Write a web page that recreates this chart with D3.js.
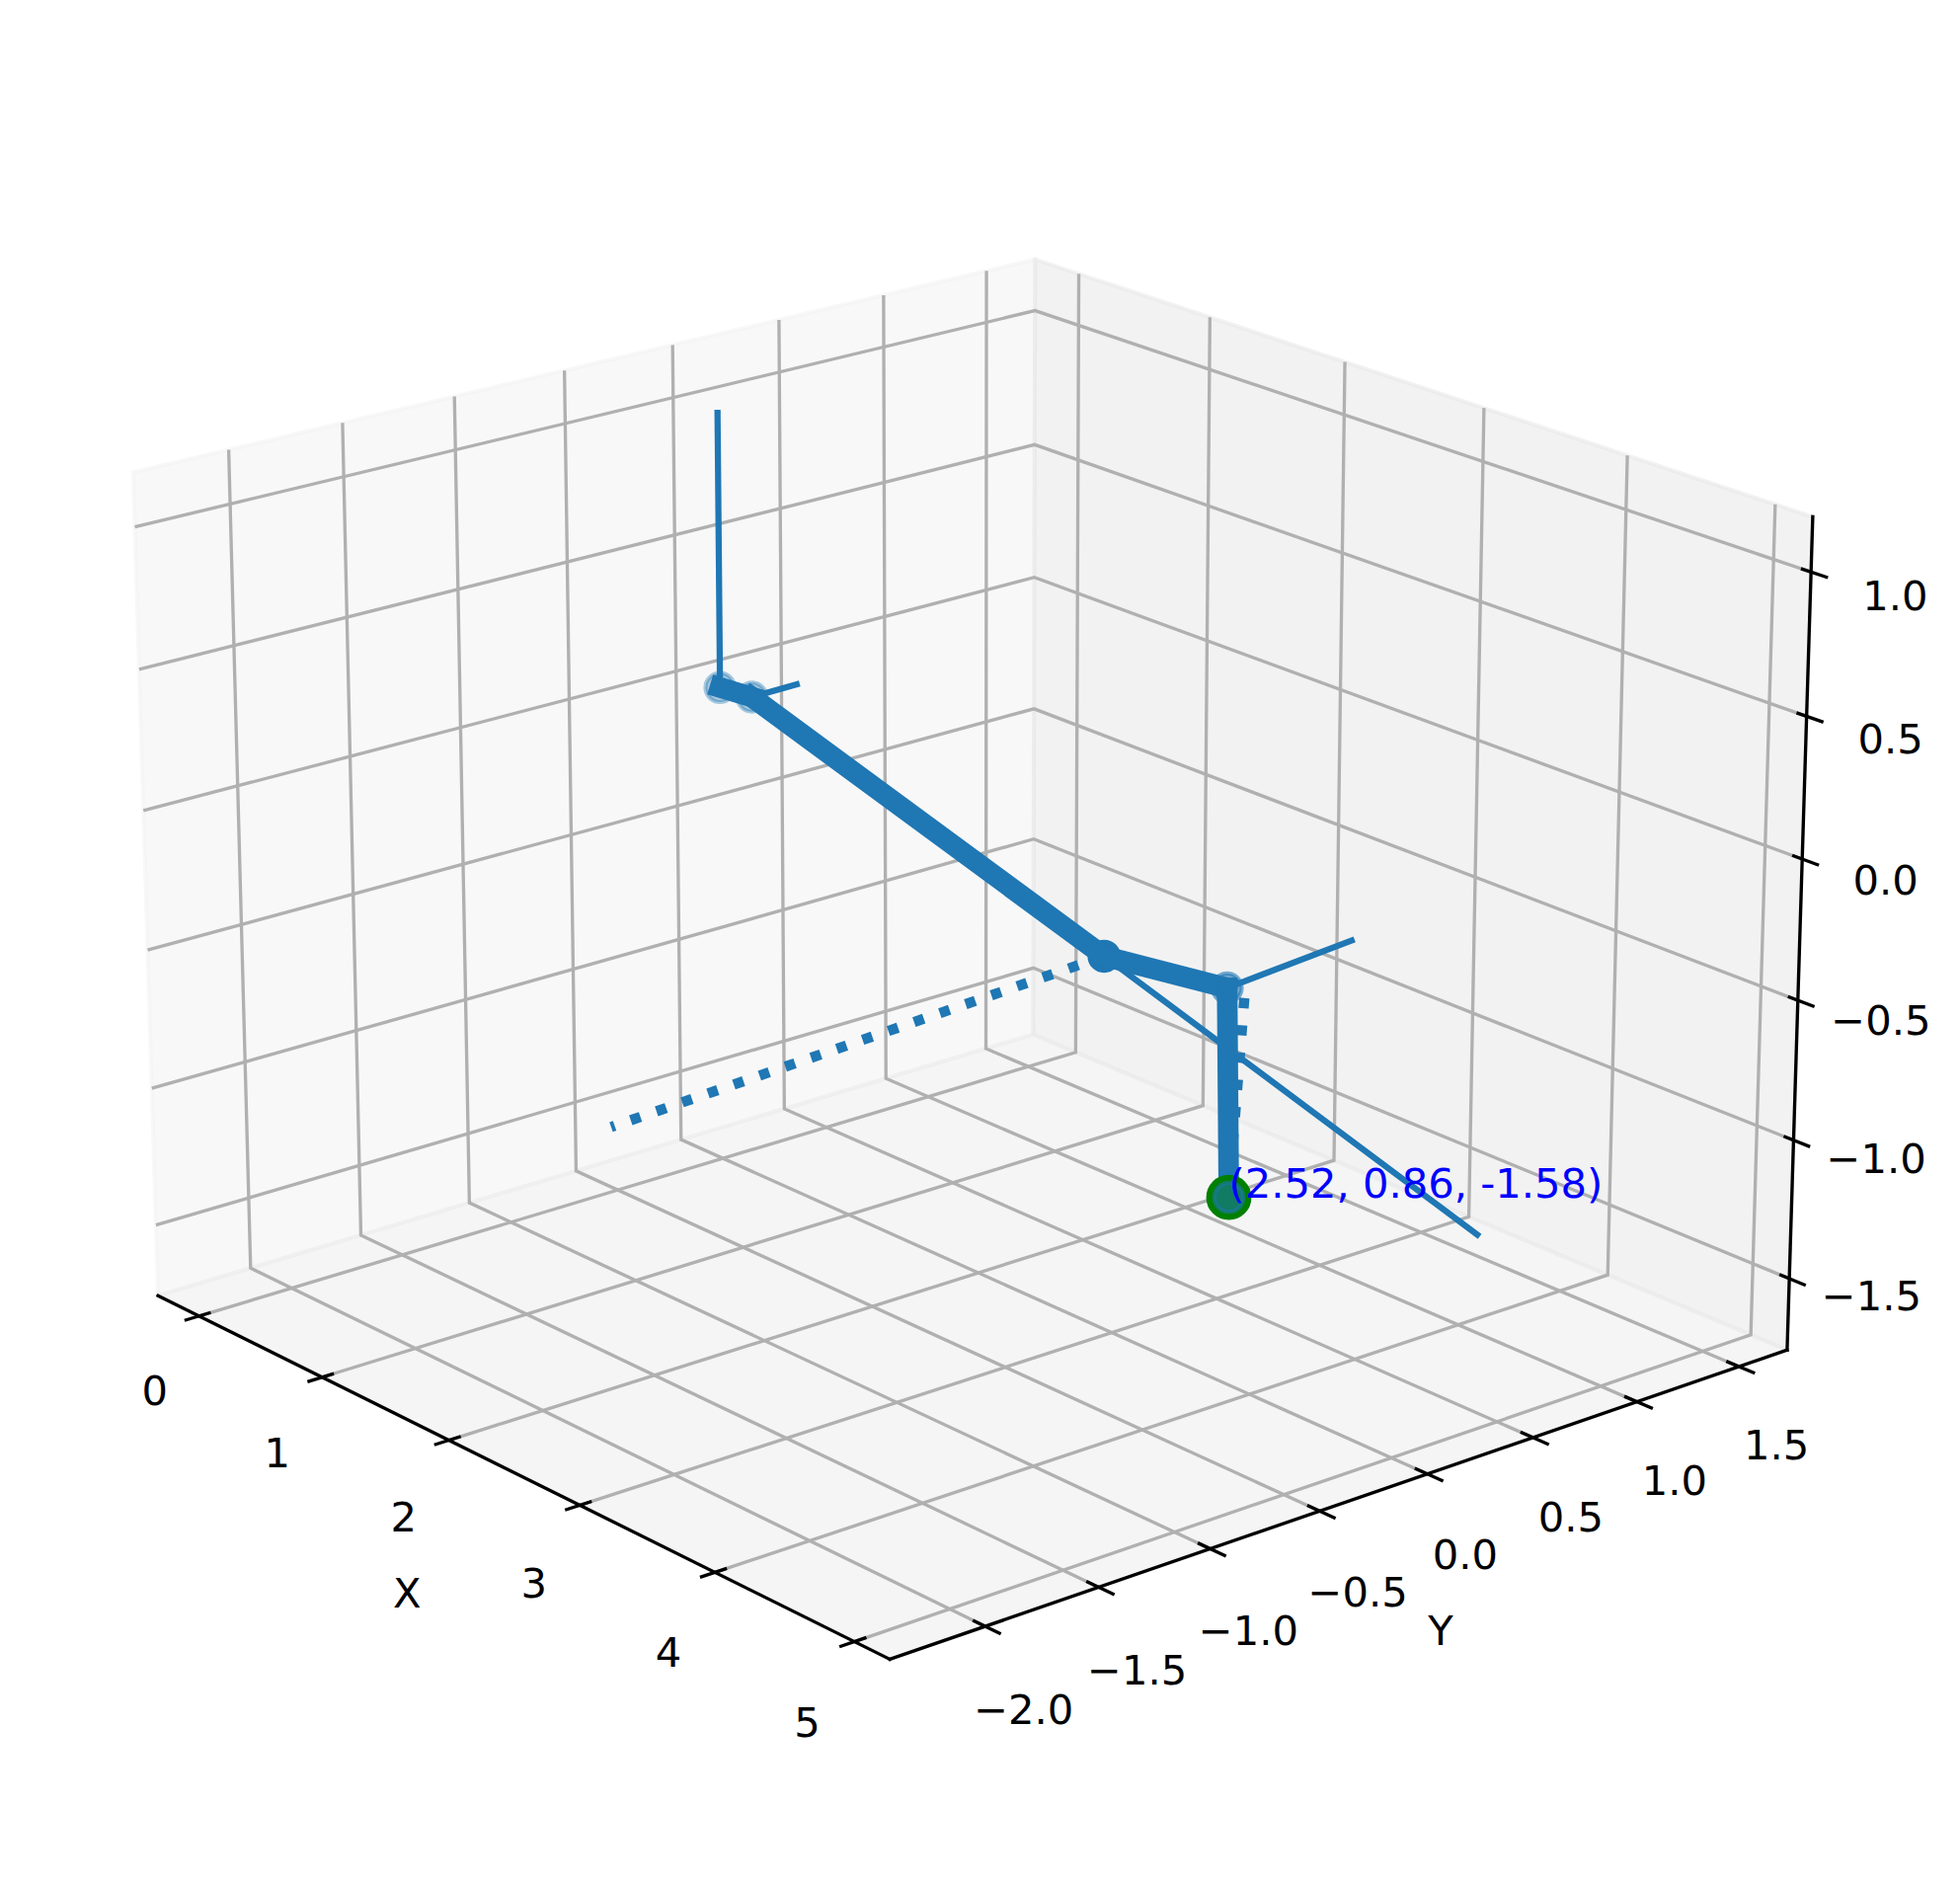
<!DOCTYPE html>
<html>
<head>
<meta charset="utf-8">
<style>
body { margin: 0; background: #fff; }
text { font-family: "DejaVu Sans", sans-serif; font-size: 41.67px; }
</style>
<script src="https://cdnjs.cloudflare.com/ajax/libs/d3/7.8.5/d3.min.js"></script>
</head>
<body>
<div id="chart"></div>
<script>
// tick values and labels
const xTicks = [0, 1, 2, 3, 4, 5];
const yTicks = [-2, -1.5, -1, -0.5, 0, 0.5, 1, 1.5];
const zTicks = [-1.5, -1, -0.5, 0, 0.5, 1];
const xTickLabels = ['0', '1', '2', '3', '4', '5'];
const yTickLabels = ['\u22122.0', '\u22121.5', '\u22121.0', '\u22120.5', '0.0', '0.5', '1.0', '1.5'];
const zTickLabels = ['\u22121.5', '\u22121.0', '\u22120.5', '0.0', '0.5', '1.0'];

// axis limits
const xLim = [-0.34, 5.249];
const yLim = [-2.413, 1.739];
const zLim = [-1.76, 1.19];

// joints of the arm
const jointNames = ['base', 'shoulder', 'elbow', 'wrist', 'tip'];
const jointX = [0, 0.262, 2.929, 2.52, 2.52];
const jointY = [0.006, 0, 0, 0.853, 0.871];
const jointZ = [0, 0.014, -0.414, -0.803, -1.58];

// thin segments: [from, to], as [x, y, z]
const thinSegments = [
  [[0, 0.006, 0], [0, 0.006, 1]],
  [[0.262, 0, 0.014], [0.614, 0, 0.125]],
  [[2.929, 0, -0.414], [5.557, 0, -0.849]],
  [[2.52, 0.853, -0.803], [2.52, 1.46, -0.765]]
];

// dotted segments start at the end the dash pattern starts from
const dottedSegments = [
  [[2.929, 0, -0.414], [2.93, -2.215, -0.503]],
  [[2.52, 0.937, -0.859], [2.52, 0.87, -1.578]]
];

const annotation = '(2.52, 0.86, -1.58)';

const width = 1985, height = 1907;
const blue = '#1f77b4';
const jointAlpha = [0.38, 0.38, 1, 0.6, 0.55];

// same camera as matplotlib at elev=20, azim=-40, dist=10
const elev = 20 * Math.PI / 180, azim = -40 * Math.PI / 180, dist = 10;
const boxK = 1.8294640721620434 * 25 / 24 / Math.sqrt(41);
const box = [4 * boxK, 4 * boxK, 3 * boxK];
const sx = 9986.7, ox = 979.4, sy = -9995.3, oy = 926.5;

const w = [Math.cos(elev) * Math.cos(azim), Math.cos(elev) * Math.sin(azim), Math.sin(elev)];
const u = [-Math.sin(azim), Math.cos(azim), 0];
const v = [w[1] * u[2] - w[2] * u[1], w[2] * u[0] - w[0] * u[2], w[0] * u[1] - w[1] * u[0]];

const xScale = d3.scaleLinear().domain(xLim).range([-box[0] / 2, box[0] / 2]);
const yScale = d3.scaleLinear().domain(yLim).range([-box[1] / 2, box[1] / 2]);
const zScale = d3.scaleLinear().domain(zLim).range([-box[2] / 2, box[2] / 2]);

const dot = (a, b) => a[0] * b[0] + a[1] * b[1] + a[2] * b[2];

function project(d) {
  const p = [xScale(d[0]), yScale(d[1]), zScale(d[2])];
  const depth = dist - dot(w, p);
  return [ox + sx * dot(u, p) / depth, oy + sy * dot(v, p) / depth];
}

// moves along an axis by a share of its span
const xStep = f => f * (xLim[1] - xLim[0]);
const yStep = f => f * (yLim[1] - yLim[0]);
const zStep = f => f * (zLim[1] - zLim[0]);

const line3 = d3.line().x(d => project(d)[0]).y(d => project(d)[1]);

const svg = d3.select('#chart').append('svg')
  .attr('width', width)
  .attr('height', height)
  .style('display', 'block');

// panes
const panes = [
  { fill: 'rgb(242,242,242)', pts: [[xLim[0], yLim[0], zLim[0]], [xLim[0], yLim[1], zLim[0]], [xLim[0], yLim[1], zLim[1]], [xLim[0], yLim[0], zLim[1]]] },
  { fill: 'rgb(230,230,230)', pts: [[xLim[0], yLim[1], zLim[0]], [xLim[1], yLim[1], zLim[0]], [xLim[1], yLim[1], zLim[1]], [xLim[0], yLim[1], zLim[1]]] },
  { fill: 'rgb(236,236,236)', pts: [[xLim[0], yLim[0], zLim[0]], [xLim[1], yLim[0], zLim[0]], [xLim[1], yLim[1], zLim[0]], [xLim[0], yLim[1], zLim[0]]] }
];

svg.selectAll('.pane').data(panes).enter().append('path')
  .attr('class', 'pane')
  .attr('d', d => line3(d.pts) + 'Z')
  .attr('fill', d => d.fill)
  .attr('fill-opacity', 0.5)
  .attr('stroke', d => d.fill)
  .attr('stroke-opacity', 0.5)
  .attr('stroke-width', 4);

// grid
const grid = [];
xTicks.forEach(t => grid.push([[t, yLim[0], zLim[0]], [t, yLim[1], zLim[0]], [t, yLim[1], zLim[1]]]));
yTicks.forEach(t => grid.push([[xLim[1], t, zLim[0]], [xLim[0], t, zLim[0]], [xLim[0], t, zLim[1]]]));
zTicks.forEach(t => grid.push([[xLim[0], yLim[0], t], [xLim[0], yLim[1], t], [xLim[1], yLim[1], t]]));

svg.selectAll('.grid').data(grid).enter().append('path')
  .attr('class', 'grid')
  .attr('d', line3)
  .attr('fill', 'none')
  .attr('stroke', '#b0b0b0')
  .attr('stroke-width', 3.33);

// axis lines
const axes = [
  [[xLim[0], yLim[0], zLim[0]], [xLim[1], yLim[0], zLim[0]]],
  [[xLim[1], yLim[0], zLim[0]], [xLim[1], yLim[1], zLim[0]]],
  [[xLim[1], yLim[1], zLim[0]], [xLim[1], yLim[1], zLim[1]]]
];
svg.selectAll('.axis').data(axes).enter().append('path')
  .attr('class', 'axis')
  .attr('d', line3)
  .attr('fill', 'none')
  .attr('stroke', '#000')
  .attr('stroke-width', 3.33)
  .attr('stroke-linecap', 'square');

// tick marks
const tickMarks = [];
xTicks.forEach(t => tickMarks.push([[t, yLim[0] + yStep(0.0125), zLim[0]], [t, yLim[0] - yStep(0.0155), zLim[0]]]));
yTicks.forEach(t => tickMarks.push([[xLim[1] - xStep(0.0155), t, zLim[0]], [xLim[1] + xStep(0.0195), t, zLim[0]]]));
zTicks.forEach(t => tickMarks.push([[xLim[1] - xStep(0.012), yLim[1], t], [xLim[1] + xStep(0.02), yLim[1], t]]));
svg.selectAll('.tick').data(tickMarks).enter().append('path')
  .attr('class', 'tick')
  .attr('d', line3)
  .attr('stroke', '#000')
  .attr('stroke-width', 3.33);

// labels, positioned by their centre
const labels = [];
xTicks.forEach((t, i) => labels.push({ text: xTickLabels[i], at: [t, yLim[0] - yStep(0.049), zLim[0] - zStep(0.075)] }));
yTicks.forEach((t, i) => labels.push({ text: yTickLabels[i], at: [xLim[1] + xStep(0.048), t, zLim[0] - zStep(0.075)] }));
zTicks.forEach((t, i) => labels.push({ text: zTickLabels[i], at: [xLim[1], yLim[1] + yStep(0.101), t - zStep(0.056)] }));
labels.push({ text: 'X', at: [d3.mean(xLim), yLim[0] - yStep(0.107), zLim[0] - zStep(0.108)] });
labels.push({ text: 'Y', at: [xLim[1] + xStep(0.1065), d3.mean(yLim), zLim[0] - zStep(0.109)] });

svg.selectAll('.label').data(labels).enter().append('text')
  .attr('class', 'label')
  .attr('x', d => project(d.at)[0])
  .attr('y', d => project(d.at)[1])
  .attr('dy', '0.3645em')
  .attr('text-anchor', 'middle')
  .attr('fill', '#000')
  .text(d => d.text);

// the arm
const joints = jointNames.map((n, i) => [jointX[i], jointY[i], jointZ[i]]);
const tip = joints[joints.length - 1];

const marker = sel => sel
  .attr('cx', d => project(d)[0])
  .attr('cy', d => project(d)[1])
  .attr('r', 14.7)
  .attr('fill', blue)
  .attr('stroke', blue)
  .attr('stroke-width', 4.17)
  .attr('fill-opacity', (d, i) => jointAlpha[i])
  .attr('stroke-opacity', (d, i) => jointAlpha[i]);

svg.selectAll('.joint').data(joints.slice(0, 4)).enter().append('circle')
  .attr('class', 'joint')
  .call(marker);

svg.selectAll('.dotted').data(dottedSegments).enter().append('path')
  .attr('class', 'dotted')
  .attr('d', line3)
  .attr('fill', 'none')
  .attr('stroke', blue)
  .attr('stroke-width', 10.42)
  .attr('stroke-dasharray', '10.42 17.19');

svg.selectAll('.thin').data(thinSegments).enter().append('path')
  .attr('class', 'thin')
  .attr('d', line3)
  .attr('fill', 'none')
  .attr('stroke', blue)
  .attr('stroke-width', 6.25)
  .attr('stroke-linecap', 'square');

svg.selectAll('.link').data(d3.pairs(joints)).enter().append('path')
  .attr('class', 'link')
  .attr('d', line3)
  .attr('fill', 'none')
  .attr('stroke', blue)
  .attr('stroke-width', 20.83)
  .attr('stroke-linecap', 'square');

// tip: green dot, the last joint over it, then its coordinates
svg.append('circle')
  .attr('cx', project(tip)[0])
  .attr('cy', project(tip)[1])
  .attr('r', 20.83)
  .attr('fill', 'green')
  .attr('stroke', 'green')
  .attr('stroke-width', 4.17);

svg.append('circle').datum(tip)
  .attr('class', 'joint-tip')
  .call(marker)
  .attr('fill-opacity', jointAlpha[4])
  .attr('stroke-opacity', jointAlpha[4]);

svg.append('text')
  .attr('x', project(tip)[0])
  .attr('y', project(tip)[1])
  .attr('fill', 'blue')
  .text(annotation);
</script>
</body>
</html>
